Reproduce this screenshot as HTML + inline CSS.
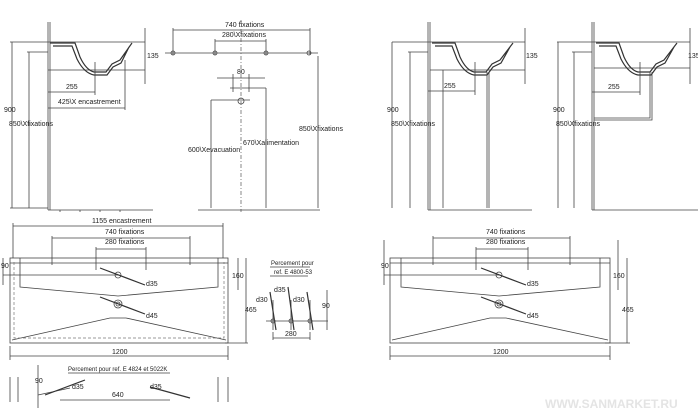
<!DOCTYPE html>
<html><head><meta charset="utf-8"><style>
html,body{margin:0;padding:0;background:#fff;}
svg{display:block;}
text{font-family:"Liberation Sans",sans-serif;font-size:7px;fill:#222;}
.l{stroke:#444;stroke-width:0.8;fill:none;}
.t{stroke:#333;stroke-width:1.2;fill:none;}
.d{stroke:#555;stroke-width:0.7;fill:none;stroke-dasharray:4 2 1 2;}
.k{stroke:#777;stroke-width:0.7;fill:none;stroke-dasharray:3 2;}
</style></head><body>
<svg width="698" height="418" viewBox="0 0 698 418" xmlns="http://www.w3.org/2000/svg">
<!-- Panel A -->
<g>
<path class="l" d="M48 22V210M50 22V210M48 210H153M60 210v2M80 210v2M100 210v2M120 210v2"/>
<path class="l" d="M10 42H145M12 42V208M10 208H48M29 52V208M27 52H48M48 70H145M145 28V84"/>
<path class="t" d="M50 43H75L80 57Q86 70 94 72L106 72L112 64L120 60L132 43M53 46H72L77 59Q84 73 94 75L107 75L113 67L121 63L129 47"/>
<path class="l" d="M95 62V95M125 60V110M48 92H95M48 108H125"/>
<text x="66" y="89">255</text><text x="58" y="104">425\X encastrement</text>
<text x="147" y="58">135</text><text x="4" y="112">900</text><text x="9" y="126">850\Xfixations</text>
</g>
<!-- Panel B -->
<g>
<path class="l" d="M173 30H310M173 28V55M310 28V55M215 41H266M215 39V55M266 39V55M165 53H318"/>
<path class="d" d="M241 20V212"/>
<circle class="l" cx="173" cy="53" r="2"/><circle class="l" cx="215" cy="53" r="2"/><circle class="l" cx="266" cy="53" r="2"/><circle class="l" cx="309" cy="53" r="2"/>
<path class="l" d="M217 78H265M233 74V92M249 74V92M230 88H266M211 100H250"/>
<circle class="l" cx="241" cy="101" r="3"/>
<path class="l" d="M211 100V208M266 88V208M318 56V208M198 210H320"/>
<text x="225" y="27">740 fixations</text><text x="222" y="37">280\Xfixations</text><text x="237" y="74">80</text>
<text x="188" y="152">600\Xevacuation</text><text x="243" y="145">670\Xalimentation</text><text x="299" y="131">850\Xfixations</text>
</g>
<!-- Panel C -->
<g>
<rect class="l" x="10" y="258" width="218" height="85"/>
<path class="l" d="M20 258V287L118 296L218 287V258M12 340L110 318H126L226 340M10 263H228"/>
<path class="k" d="M14 262V338H224V262"/>
<path class="l" d="M13 226H223M13 223V258M223 223V258M52 238H190M52 236V265M190 236V265M96 249H146M96 247V270M146 247V270"/>
<path class="l" d="M3 258V285M3 275H118M238 258V290M246 258V343M225 343H248M10 356H228M10 346V360M228 346V360"/>
<circle class="l" cx="118" cy="275" r="3"/><circle class="l" cx="118" cy="304" r="4"/><circle class="l" cx="118" cy="304" r="2"/>
<path class="t" d="M100 268L145 285M100 297L145 314"/>
<text x="92" y="223">1155 encastrement</text><text x="105" y="234">740 fixations</text><text x="105" y="244">280 fixations</text>
<text x="1" y="268">90</text><text x="146" y="286">d35</text><text x="146" y="318">d45</text><text x="232" y="278">160</text><text x="245" y="312">465</text><text x="112" y="354">1200</text>
</g>
<!-- Panel D -->
<g>
<text x="271" y="265" style="font-size:6px">Percement pour</text><text x="274" y="274" style="font-size:6px">ref. E 4800-53</text>
<path class="l" d="M270 267H310M270 276H308M266 321H328M327 290V330M273 332V340M310 332V340M273 338H310M273 300V330M291 300V330M310 300V330"/>
<path class="t" d="M270 292L276 330M288 287L294 330M307 292L313 330"/>
<circle class="l" cx="273" cy="321" r="2"/><circle class="l" cx="291" cy="321" r="2"/><circle class="l" cx="310" cy="321" r="2"/>
<text x="256" y="302">d30</text><text x="274" y="292">d35</text><text x="293" y="302">d30</text><text x="322" y="308">90</text><text x="285" y="336">280</text>
</g>
<!-- Panel E -->
<g>
<path class="l" d="M68 373H170M10 377V402M18 377V402M218 377V402M228 377V402M38 365V408M38 395L70 388M60 400H170"/>
<path class="t" d="M45 395L85 380M150 387L190 398"/>
<text x="68" y="371" style="font-size:6px">Percement pour ref. E 4824 et 5022K</text>
<text x="35" y="383">90</text><text x="72" y="389">d35</text><text x="150" y="389">d35</text><text x="112" y="397">640</text>
</g>
<!-- Panel F -->
<g>
<path class="l" d="M428 22V210M430 22V210M428 210H532"/>
<path class="l" d="M392 42H525M392 42V208M410 52V208M408 52H428M430 70H525M525 28V84"/>
<path class="t" d="M432 43H455L460 57Q466 70 474 72L486 72L492 64L500 60L513 43M435 46H452L457 59Q464 73 474 75L487 75L493 67L501 63L510 47"/>
<path class="l" d="M475 62V95M428 91H475M443 70V208M487 72V208M489 72V208"/>
<text x="444" y="88">255</text><text x="526" y="58">135</text><text x="387" y="112">900</text><text x="391" y="126">850\Xfixations</text>
</g>
<!-- Panel G -->
<g>
<path class="l" d="M592 22V210M594 22V210M592 210H698"/>
<path class="l" d="M557 42H690M558 42V208M574 52V208M572 52H592M594 68H690M690 28V84"/>
<path class="t" d="M596 43H619L624 57Q630 70 638 72L650 72L656 64L664 60L677 43M599 46H616L621 59Q628 73 638 75L651 75L657 67L665 63L674 47"/>
<path class="l" d="M640 62V95M592 92H640M650 72V118H594M652 72V120H594"/>
<text x="608" y="89">255</text><text x="688" y="58">135</text><text x="553" y="112">900</text><text x="556" y="126">850\Xfixations</text>
</g>
<!-- Panel H -->
<g>
<rect class="l" x="390" y="258" width="220" height="85"/>
<path class="l" d="M401 258V287L499 296L600 287V258M392 340L490 318H506L608 340M390 263H610"/>
<path class="l" d="M433 238H570M433 236V265M570 236V265M476 249H528M476 247V270M528 247V270"/>
<path class="l" d="M384 240V285M384 275H499M618 240V290M627 258V343M605 343H630M390 356H610M390 346V360M610 346V360"/>
<circle class="l" cx="499" cy="275" r="3"/><circle class="l" cx="499" cy="304" r="4"/><circle class="l" cx="499" cy="304" r="2"/>
<path class="t" d="M481 268L526 285M481 297L526 314"/>
<text x="486" y="234">740 fixations</text><text x="486" y="244">280 fixations</text>
<text x="381" y="268">90</text><text x="527" y="286">d35</text><text x="527" y="318">d45</text><text x="613" y="278">160</text><text x="622" y="312">465</text><text x="493" y="354">1200</text>
</g>
<text x="545" y="408" style="font-size:12px;font-weight:bold;fill:#e4e4e4">WWW.SANMARKET.RU</text>
</svg>
</body></html>
